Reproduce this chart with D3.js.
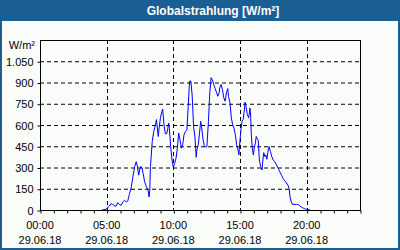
<!DOCTYPE html>
<html><head><meta charset="utf-8">
<script src="https://cdn.jsdelivr.net/npm/d3@7/dist/d3.min.js"></script>
<style>
html,body{margin:0;padding:0;background:#fff;}
svg{display:block;font-family:"Liberation Sans",Arial,sans-serif;}
</style></head>
<body>
<svg id="c" width="400" height="250"></svg>
<script>
const title = "Globalstrahlung [W/m²]";
const unitLabel = "W/m²";
const dateLabel = "29.06.18";
const yTicks = [0,150,300,450,600,750,900,1050];
const xTickHours = [0,5,10,15,20];
// minutes after midnight
const times = [279,297,312,320,327,335,342,350,358,365,373,380,388,395,403,411,418,426,433,438,444,452,459,464,471,479,486,491,494,497,505,512,520,524,532,536,542,547,552,558,564,570,574,579,582,588,594,600,606,612,618,624,630,636,642,648,655,661,667,673,679,685,691,697,703,706,712,718,723,727,733,739,745,751,758,764,770,776,782,788,794,800,806,809,815,821,827,833,839,845,848,855,861,867,873,879,885,891,895,900,905,909,914,918,923,927,933,939,945,948,951,955,960,964,969,973,978,982,987,993,999,1003,1007,1012,1016,1021,1025,1031,1037,1043,1049,1057,1064,1072,1079,1087,1094,1101,1109,1116,1121,1125,1131,1136,1154,1163,1169,1176,1184,1191,1199,1206,1216];
const values = [0,5,28,45,40,30,26,52,38,33,57,69,57,64,116,164,235,306,341,310,246,306,301,258,199,164,140,92,140,306,483,555,602,638,519,578,650,685,713,602,538,538,566,614,578,448,353,301,329,365,436,543,495,436,460,531,555,566,732,910,910,803,590,519,372,424,460,543,626,590,507,453,443,448,626,827,934,917,886,857,832,803,827,862,886,850,792,768,827,857,803,756,650,602,578,531,460,424,389,495,578,626,638,685,761,732,673,650,720,661,531,443,389,436,472,519,500,495,353,306,282,353,405,377,389,358,405,448,412,377,353,341,318,294,270,246,223,206,192,175,152,92,57,40,40,38,28,21,14,9,5,2,0];

const svg = d3.select("#c");
const W = 400, H = 250;
const L = 40, R = 360, T = 40, B = 210;
const day = new Date(2018,5,29,0,0);
const t = m => new Date(day.getTime() + m*60000);

const x = d3.scaleTime().domain([day, t(1440)]).range([L, R]);
const y = d3.scaleLinear().domain([0,1200]).range([B, T]);

// background + border
svg.append("rect").attr("x",0).attr("y",0).attr("width",W).attr("height",H).attr("fill","#1b5e93");
svg.append("rect").attr("x",2).attr("y",21).attr("width",W-4).attr("height",H-23).attr("fill","#fbfdfb");
svg.append("text").attr("x",213).attr("y",15).attr("text-anchor","middle")
  .attr("fill","#fff").attr("font-weight","bold").attr("font-size","12px").text(title);

// grid
const g = svg.append("g");
g.selectAll("line.hg").data(yTicks.filter(v=>v>0)).join("line")
  .attr("x1",L).attr("x2",R).attr("y1",d=>y(d)+0.5).attr("y2",d=>y(d)+0.5)
  .attr("stroke","#000").attr("stroke-dasharray","4,3");
g.selectAll("line.vg").data(xTickHours.filter(h=>h>0)).join("line")
  .attr("y1",T).attr("y2",B).attr("x1",d=>Math.round(x(t(d*60)))+0.5).attr("x2",d=>Math.round(x(t(d*60)))+0.5)
  .attr("stroke","#000").attr("stroke-dasharray","4,3");

// axes
const yAxis = d3.axisLeft(y).tickValues(yTicks).tickSize(3).tickPadding(3)
  .tickFormat(d => d3.format(",")(d).replace(/,/g,"."));
const ya = svg.append("g").attr("transform",`translate(${L+0.5},0.5)`).call(yAxis);
ya.select(".domain").remove();
ya.selectAll("text").attr("font-size","11px").attr("fill","#000").attr("font-family","Liberation Sans, Arial, sans-serif").attr("dx",-1);

svg.append("text").attr("x",35).attr("y",49).attr("text-anchor","end")
  .attr("font-size","11px").attr("fill","#000").text(unitLabel);

const hourTicks = d3.range(0,25).map(h=>t(h*60));
const xAxis = d3.axisBottom(x).tickValues(hourTicks).tickSize(3).tickFormat("");
const xa = svg.append("g").attr("transform",`translate(0.5,${B+0.5})`).call(xAxis);
xa.select(".domain").remove();

const lab = svg.append("g");
lab.selectAll("text.tm").data(xTickHours).join("text")
  .attr("x",d=>x(t(d*60))).attr("y",229).attr("text-anchor","middle").attr("font-size","11px")
  .text(d=>d3.timeFormat("%H:%M")(t(d*60)));
lab.selectAll("text.dt").data(xTickHours).join("text")
  .attr("x",d=>x(t(d*60))).attr("y",244).attr("text-anchor","middle").attr("font-size","11px")
  .text(dateLabel);

// frame
svg.append("rect").attr("x",L+0.5).attr("y",T+0.5).attr("width",R-L).attr("height",B-T)
  .attr("fill","none").attr("stroke","#000");

// data line
const line = d3.line().x((d,i)=>x(t(times[i]))).y(d=>y(d));
svg.append("path").datum(values).attr("d",line).attr("fill","none")
  .attr("stroke","#0000ff").attr("stroke-width",1);
</script>
</body></html>
